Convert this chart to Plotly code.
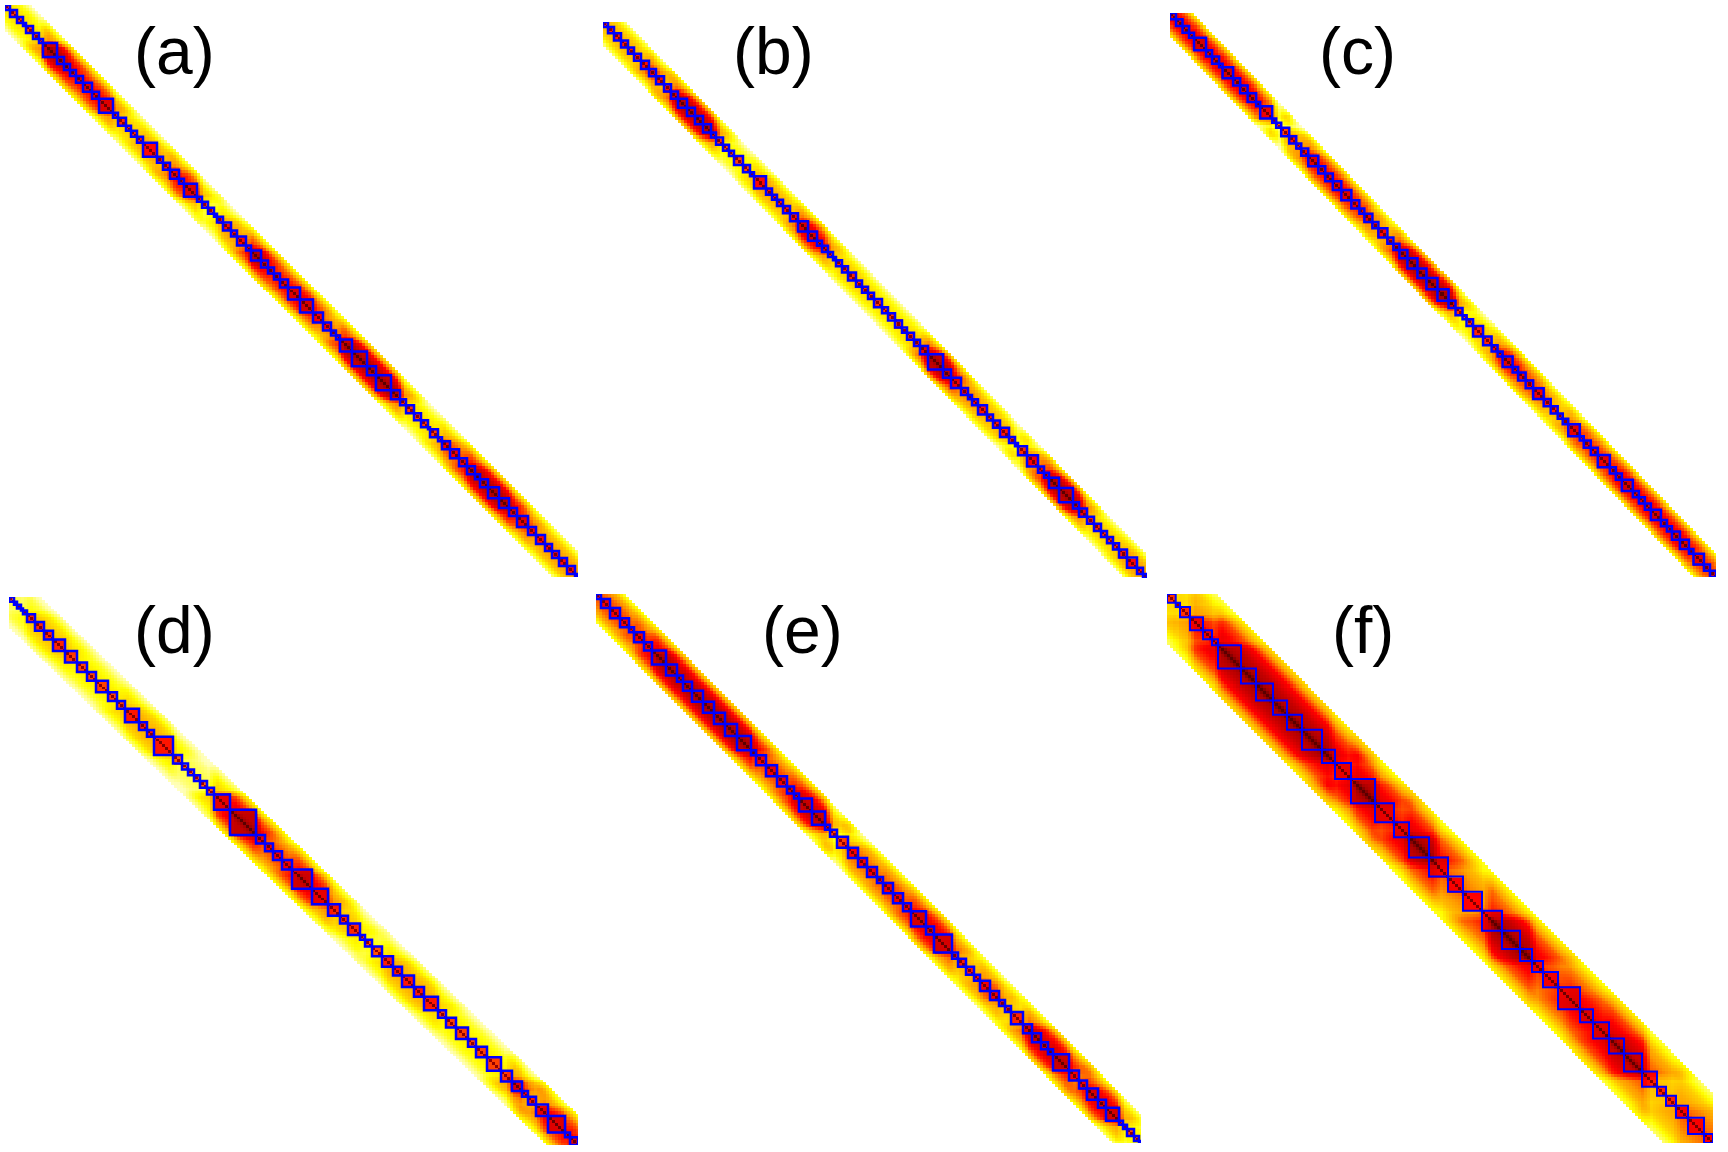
import numpy as np
import plotly.graph_objects as go

# genome axis runs in image-scale units, one heatmap bin covers three of them
BIN = 3

LABELS = ["(a)", "(b)", "(c)", "(d)", "(e)", "(f)"]

# domain boundaries of the blue boxes, read along each diagonal
TADS_A = [0, 5, 12, 18, 21, 28, 34, 38, 52, 59, 65, 71, 78, 87, 94, 108, 113, 121, 126, 132, 138,
          152, 158, 165, 174, 179, 192, 197, 203, 209, 212, 218, 226, 232, 241, 246, 256, 263,
          269, 275, 283, 295, 308, 318, 326, 331, 335, 347, 362, 371, 386, 395, 401, 409, 416,
          423, 425, 433, 437, 445, 454, 462, 470, 475, 483, 494, 504, 512, 523, 531, 540, 547,
          554, 562, 570, 573]
TADS_B = [0, 5, 11, 18, 25, 31, 38, 46, 53, 61, 68, 75, 84, 92, 100, 108, 113, 120, 126, 131, 140,
          147, 151, 163, 169, 174, 180, 187, 195, 205, 214, 219, 225, 230, 233, 239, 245, 253,
          259, 265, 271, 279, 285, 292, 299, 304, 311, 317, 325, 340, 348, 358, 365, 369, 375,
          384, 390, 397, 406, 412, 415, 424, 435, 441, 446, 456, 470, 476, 484, 491, 498, 504,
          510, 516, 524, 534, 540, 544]
TADS_C = [0, 6, 12.5, 19, 24, 36, 42, 49, 52.5, 63, 70, 77.5, 86, 90, 102, 106, 111, 119, 126, 131,
          138, 148, 155, 162.5, 171, 181, 189, 194, 202, 208, 217, 223, 229, 237, 247, 256, 267,
          278, 285, 292, 296, 302.5, 312.5, 321, 327, 332, 342, 347.5, 355, 362.5, 373, 380, 387,
          392, 397.5, 409, 413, 420, 427, 439, 445, 451, 462, 468, 474, 480, 490, 496, 501, 509,
          518, 522.5, 533, 539, 545]
TADS_D = [0, 5, 8, 12, 14, 18, 26, 35, 44, 56, 68, 78, 87, 99, 108, 116, 130, 138, 145, 164, 173,
          179, 185, 191, 198, 205, 221, 247, 256, 264, 273, 283, 303, 319, 331, 339, 351, 356,
          363, 373, 384, 393, 405, 415, 429, 437, 447, 459, 467, 478, 492, 503, 513, 519, 527,
          539, 556, 561, 569]
TADS_E = [0, 5, 14, 24, 33, 38, 48, 56, 70, 81, 87, 96, 107, 118, 129, 141, 155, 160, 170, 181,
          191, 198, 203, 216, 229, 234, 241, 252, 262, 271, 281, 287, 297, 307, 315, 330, 338,
          356, 362, 370, 378, 384, 394, 403, 409, 415, 427, 436, 445, 452, 457, 473, 483, 491,
          502, 510, 523, 527, 531, 538, 543, 545]
TADS_F = [0, 8.7, 13, 23, 36, 45, 51, 74, 89, 106, 120, 135, 155, 168, 184, 208, 227, 242, 262,
          281, 296, 315, 335, 353, 365, 376, 391, 413, 426, 442, 457, 475, 490, 499, 509, 521,
          537, 546]

# band strength: upper end of each stretch of the diagonal and its level
ENDS_A = [38, 67, 95, 108, 135, 153, 165, 195, 212, 242, 262, 295, 308, 335, 395, 435, 462, 508, 525, 573]
LEVELS_A = [0.5, 1.0, 0.85, 0.85, 0.55, 0.65, 0.6, 0.85, 0.4, 0.65, 1.0, 0.85, 0.9, 0.7, 1.0, 0.5, 0.75, 1.0, 0.8, 0.65]
ENDS_B = [46, 55, 68, 115, 150, 175, 195, 225, 265, 310, 320, 350, 375, 410, 420, 440, 480, 520, 544]
LEVELS_B = [0.6, 0.85, 0.6, 1.0, 0.45, 0.65, 0.6, 0.9, 0.55, 0.5, 0.6, 1.0, 0.7, 0.6, 0.35, 0.7, 1.0, 0.55, 0.65]
ENDS_C = [90, 105, 115, 135, 180, 200, 225, 285, 300, 325, 350, 375, 395, 440, 520, 545]
LEVELS_C = [0.9, 0.75, 0.25, 0.65, 0.85, 0.8, 0.65, 1.0, 0.45, 0.55, 0.85, 0.75, 0.6, 0.8, 0.9, 0.8]
ENDS_D = [18, 60, 115, 135, 165, 205, 221, 250, 285, 303, 320, 350, 375, 430, 500, 515, 530, 569]
LEVELS_D = [0.35, 0.55, 0.45, 0.6, 0.6, 0.35, 0.8, 1.0, 0.75, 0.95, 0.8, 0.55, 0.4, 0.6, 0.45, 0.85, 0.6, 0.85]
ENDS_E = [38, 56, 160, 195, 235, 250, 285, 315, 356, 385, 405, 430, 475, 490, 525, 545]
LEVELS_E = [0.75, 0.8, 1.0, 0.75, 0.95, 0.4, 0.7, 0.75, 0.9, 0.6, 0.75, 0.55, 0.95, 0.7, 0.9, 0.45]
ENDS_F = [23, 50, 165, 185, 210, 240, 270, 300, 320, 365, 400, 440, 480, 510, 546]
LEVELS_F = [0.5, 0.8, 1.0, 0.8, 1.0, 0.8, 1.0, 0.7, 0.65, 1.0, 0.75, 0.85, 0.95, 0.55, 0.7]

# how far the band reaches off the diagonal in each panel
BAND_WIDTHS = [25, 23, 23, 31, 29, 50]
LINE_WIDTHS = [2.5, 2.5, 2.5, 2.5, 2.5, 2]

# contact level against distance from the diagonal (fraction of band width)
DECAY = [1.0, 0.88, 0.85, 0.83, 0.80, 0.76, 0.72, 0.65, 0.56, 0.47, 0.40]

HOT = [
    [0.0, "#ffffff"], [0.2, "#ffffb0"], [0.35, "#ffff00"], [0.55, "#ff9a00"],
    [0.72, "#ff0000"], [0.88, "#a80000"], [1.0, "#5a0000"],
]

# panel extents on the page: left, right, top, bottom
PANELS = [
    (5, 578, 5, 577), (603, 1147, 22, 578), (1170, 1716, 13, 577),
    (9, 578, 597, 1145), (596, 1141, 594, 1143), (1167, 1713, 594, 1143),
]
LABEL_POS = [(174, 51), (773, 51), (1357, 51), (174, 630), (802, 630), (1363, 630)]

W, H = 1728, 1152


def build_z(tads, ends, levels, band):
    length = tads[-1]
    centers = np.arange(BIN / 2, length, BIN)
    idx = np.clip(np.searchsorted(ends, centers), 0, len(levels) - 1)
    act = np.array(levels)[idx]
    act = np.convolve(np.pad(act, 1, mode="edge"), np.ones(3) / 3, mode="valid")

    # larger domains sit a little darker, which gives the blocky plaid look
    tad = np.searchsorted(tads, centers, side="right")
    sizes = np.diff(tads)[np.clip(tad - 1, 0, len(tads) - 2)]
    act = act * np.clip(0.88 + sizes / 80, 0.88, 1.0)

    dist = np.abs(centers[:, None] - centers[None, :])
    fade = np.interp(dist / band, np.linspace(0, 1, len(DECAY)), DECAY)
    pair = np.sqrt(act[:, None] * act[None, :])
    z = pair * fade

    same = tad[:, None] == tad[None, :]
    z = np.where(same, np.maximum(z, 0.5 + 0.33 * pair), z)
    z = np.where(dist < BIN, np.maximum(z, 0.85 + 0.15 * pair), z)
    z[dist > band] = np.nan
    return centers, z


def box_path(tads):
    xs, ys = [], []
    for a, b in zip(tads[:-1], tads[1:]):
        xs += [a, b, b, a, a, None]
        ys += [a, a, b, b, a, None]
    return xs, ys


fig = go.Figure()
layout_axes = {}
all_tads = [TADS_A, TADS_B, TADS_C, TADS_D, TADS_E, TADS_F]
all_ends = [ENDS_A, ENDS_B, ENDS_C, ENDS_D, ENDS_E, ENDS_F]
all_levels = [LEVELS_A, LEVELS_B, LEVELS_C, LEVELS_D, LEVELS_E, LEVELS_F]

for i in range(6):
    suffix = "" if i == 0 else str(i + 1)
    tads = all_tads[i]
    centers, z = build_z(tads, all_ends[i], all_levels[i], BAND_WIDTHS[i])
    fig.add_trace(go.Heatmap(
        x=centers, y=centers, z=z,
        colorscale=HOT, zmin=0, zmax=1, showscale=False,
        xaxis="x" + suffix, yaxis="y" + suffix,
    ))
    xs, ys = box_path(tads)
    fig.add_trace(go.Scatter(
        x=xs, y=ys, mode="lines",
        line=dict(color="#0000ff", width=LINE_WIDTHS[i]),
        cliponaxis=False, showlegend=False, hoverinfo="skip",
        xaxis="x" + suffix, yaxis="y" + suffix,
    ))
    left, right, top, bottom = PANELS[i]
    layout_axes["xaxis" + suffix] = dict(
        domain=[left / W, right / W], range=[0, tads[-1]], visible=False,
        anchor="y" + suffix,
    )
    layout_axes["yaxis" + suffix] = dict(
        domain=[1 - bottom / H, 1 - top / H], range=[tads[-1], 0], visible=False,
        anchor="x" + suffix,
    )

for label, (px, py) in zip(LABELS, LABEL_POS):
    fig.add_annotation(
        x=px / W, y=1 - py / H, xref="paper", yref="paper",
        text=label, showarrow=False, xanchor="center", yanchor="middle",
        font=dict(family="Liberation Sans", size=66, color="#000000"),
    )

fig.update_layout(
    **layout_axes,
    width=W, height=H,
    margin=dict(l=0, r=0, t=0, b=0),
    plot_bgcolor="#ffffff",
    paper_bgcolor="#ffffff",
    showlegend=False,
)

fig.write_html("out.html", config={"displayModeBar": False},
               post_script="document.body.style.margin='0';")
